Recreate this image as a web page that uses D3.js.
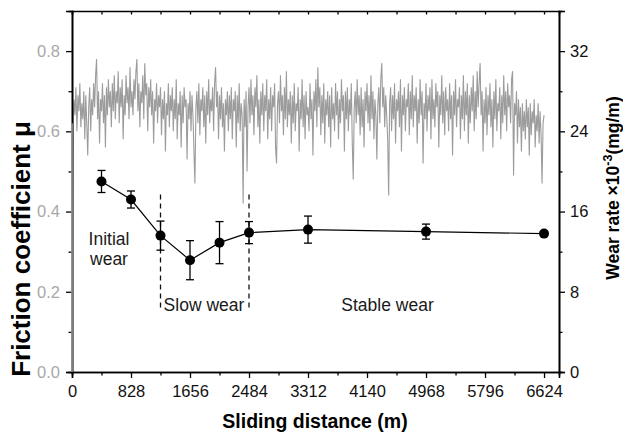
<!DOCTYPE html>
<html>
<head>
<meta charset="utf-8">
<script src="https://cdn.jsdelivr.net/npm/d3@7"></script>
<style>
  body { margin: 0; background: #fff; }
  svg { display: block; font-family: "Liberation Sans", Arial, sans-serif; }
</style>
</head>
<body>
<svg id="chart" width="623" height="434"></svg>
<script>
// friction trace, sampled every 13.8 m from 0 to 6624 m
const frictionStep = 13.8;
const friction = [
  0.00,
  0.62,0.68,0.64,0.71,0.60,0.69,0.65,0.72,0.61,0.67,0.63,0.70,0.58,0.69,0.62,0.54,0.66,0.71,0.60,0.68,
  0.64,0.72,0.66,0.74,0.78,0.63,0.70,0.57,0.68,0.65,0.72,0.62,0.69,0.56,0.71,0.64,0.73,0.66,0.70,0.61,
  0.72,0.65,0.74,0.63,0.70,0.67,0.75,0.62,0.71,0.66,0.73,0.58,0.69,0.64,0.74,0.67,0.71,0.63,0.76,0.66,
  0.70,0.64,0.73,0.68,0.75,0.78,0.65,0.72,0.61,0.70,0.67,0.74,0.63,0.77,0.69,0.72,0.60,0.71,0.66,0.73,
  0.64,0.70,0.57,0.68,0.65,0.72,0.62,0.69,0.66,0.71,0.59,0.68,0.63,0.70,0.55,0.67,0.64,0.72,0.61,0.69,
  0.65,0.71,0.60,0.68,0.63,0.73,0.58,0.67,0.64,0.70,0.56,0.69,0.62,0.71,0.66,0.68,0.53,0.67,0.63,0.70,
  0.60,0.69,0.64,0.55,0.47,0.66,0.70,0.62,0.72,0.59,0.68,0.65,0.71,0.61,0.69,0.57,0.70,0.64,0.73,0.62,
  0.68,0.65,0.71,0.60,0.72,0.76,0.66,0.70,0.58,0.69,0.63,0.71,0.61,0.67,0.55,0.68,0.64,0.70,0.60,0.69,
  0.63,0.71,0.58,0.68,0.65,0.70,0.56,0.69,0.62,0.72,0.60,0.67,0.64,0.42,0.68,0.61,0.70,0.50,0.66,0.71,
  0.62,0.73,0.64,0.69,0.59,0.71,0.66,0.74,0.61,0.68,0.57,0.70,0.64,0.72,0.60,0.69,0.65,0.73,0.58,0.68,
  0.63,0.71,0.60,0.69,0.66,0.72,0.56,0.52,0.67,0.70,0.62,0.74,0.65,0.69,0.59,0.71,0.63,0.75,0.61,0.68,
  0.64,0.70,0.57,0.69,0.62,0.72,0.60,0.67,0.65,0.71,0.55,0.68,0.63,0.73,0.61,0.69,0.58,0.70,0.64,0.66,
  0.60,0.72,0.63,0.68,0.54,0.70,0.65,0.73,0.61,0.76,0.66,0.71,0.59,0.69,0.62,0.72,0.57,0.68,0.64,0.70,
  0.61,0.69,0.56,0.71,0.63,0.67,0.60,0.72,0.64,0.70,0.58,0.68,0.62,0.73,0.65,0.69,0.55,0.70,0.63,0.71,
  0.60,0.68,0.64,0.72,0.57,0.48,0.66,0.70,0.62,0.73,0.64,0.69,0.59,0.71,0.61,0.68,0.56,0.70,0.65,0.72,
  0.62,0.69,0.60,0.74,0.63,0.70,0.58,0.68,0.64,0.53,0.67,0.71,0.62,0.73,0.77,0.66,0.71,0.61,0.69,0.64,
  0.58,0.44,0.67,0.71,0.60,0.69,0.63,0.72,0.57,0.68,0.65,0.70,0.61,0.73,0.55,0.69,0.64,0.71,0.60,0.68,
  0.66,0.72,0.59,0.70,0.63,0.74,0.61,0.69,0.65,0.71,0.57,0.68,0.62,0.73,0.64,0.70,0.52,0.67,0.63,0.72,
  0.60,0.69,0.65,0.71,0.58,0.73,0.63,0.68,0.61,0.72,0.66,0.70,0.56,0.69,0.64,0.74,0.62,0.70,0.59,0.71,
  0.65,0.68,0.60,0.72,0.63,0.69,0.54,0.70,0.64,0.73,0.61,0.68,0.66,0.71,0.58,0.69,0.63,0.74,0.60,0.70,
  0.64,0.72,0.57,0.69,0.62,0.71,0.65,0.74,0.60,0.70,0.63,0.75,0.66,0.72,0.77,0.64,0.70,0.55,0.68,0.62,
  0.71,0.59,0.69,0.64,0.72,0.61,0.68,0.56,0.70,0.63,0.73,0.60,0.67,0.65,0.71,0.58,0.69,0.62,0.74,0.64,
  0.70,0.60,0.72,0.66,0.69,0.62,0.73,0.75,0.49,0.67,0.64,0.70,0.57,0.68,0.61,0.66,0.55,0.67,0.60,0.65,
  0.58,0.68,0.61,0.66,0.54,0.67,0.59,0.65,0.62,0.68,0.56,0.64,0.60,0.67,0.57,0.65,0.59,0.47,0.62,0.64
];

// wear rate points (x10^-3 mg/m)
const wearDist = [414, 828, 1242, 1656, 2070, 2484, 3312, 4968, 6624];
const wearRate = [19.0, 17.2, 13.6, 11.15, 12.9, 13.9, 14.2, 14.0, 13.8];
const wearErr = [1.1, 0.85, 1.45, 1.95, 2.1, 1.1, 1.35, 0.75, 0];

const xTicks = [0, 828, 1656, 2484, 3312, 4140, 4968, 5796, 6624];
const xMinor = [414, 1242, 2070, 2898, 3726, 4554, 5382, 6210];
const fTicks = [0, 0.2, 0.4, 0.6, 0.8];
const fMinor = [0.1, 0.3, 0.5, 0.7];
const wTicks = [0, 8, 16, 24, 32];
const wMinor = [4, 12, 20, 28];

// stage boundaries (distance, wear-rate range) and labels
const stageLines = [1242, 2484];
const stageLineRange = [6.1, 17.7];
const stageLabels = [
  { lines: ["Initial", "wear"], dist: 519, wear: [12.67, 10.7] },
  { lines: ["Slow wear"], dist: 1852, wear: [6.05] },
  { lines: ["Stable wear"], dist: 4428, wear: [6.05] }
];

const svg = d3.select("#chart");
const margin = { top: 11, right: 64, bottom: 62, left: 72 };
const W = 623, H = 434;

const x = d3.scaleLinear().domain([0, 6834]).range([margin.left, W - margin.right]);
const yF = d3.scaleLinear().domain([0, 0.9]).range([H - margin.bottom, margin.top]);
const yW = d3.scaleLinear().domain([0, 36]).range([H - margin.bottom, margin.top]);

const tickFont = 16.5;

// friction trace
const frictionPts = friction.map((v, i) => [i * frictionStep, v]);
svg.append("path")
  .datum(frictionPts)
  .attr("fill", "none")
  .attr("stroke", "#9c9c9c")
  .attr("stroke-width", 1.1)
  .attr("d", d3.line().x(d => x(d[0])).y(d => yF(d[1])));

// dashed stage lines
svg.selectAll(".stage")
  .data(stageLines)
  .join("line")
  .attr("x1", d => x(d)).attr("x2", d => x(d))
  .attr("y1", yW(stageLineRange[1])).attr("y2", yW(stageLineRange[0]))
  .attr("stroke", "#111")
  .attr("stroke-width", 1.3)
  .attr("stroke-dasharray", "5,4");

// stage labels
stageLabels.forEach(s => {
  s.lines.forEach((t, j) => {
    svg.append("text")
      .attr("x", x(s.dist))
      .attr("y", yW(s.wear[j]))
      .attr("text-anchor", "middle")
      .attr("font-size", 17.5)
      .attr("fill", "#1a1a1a")
      .text(t);
  });
});

// wear rate line + error bars + dots
const wear = wearDist.map((d, i) => ({ d, v: wearRate[i], e: wearErr[i] }));
svg.append("path")
  .datum(wear)
  .attr("fill", "none")
  .attr("stroke", "#000")
  .attr("stroke-width", 1.2)
  .attr("d", d3.line().x(p => x(p.d)).y(p => yW(p.v)));

const eb = svg.selectAll(".err").data(wear.filter(p => p.e > 0)).join("g");
eb.append("line")
  .attr("x1", p => x(p.d)).attr("x2", p => x(p.d))
  .attr("y1", p => yW(p.v + p.e)).attr("y2", p => yW(p.v - p.e))
  .attr("stroke", "#000").attr("stroke-width", 1.3);
[1, -1].forEach(s => {
  eb.append("line")
    .attr("x1", p => x(p.d) - 4).attr("x2", p => x(p.d) + 4)
    .attr("y1", p => yW(p.v + s * p.e)).attr("y2", p => yW(p.v + s * p.e))
    .attr("stroke", "#000").attr("stroke-width", 1.3);
});

svg.selectAll(".dot")
  .data(wear)
  .join("circle")
  .attr("cx", p => x(p.d))
  .attr("cy", p => yW(p.v))
  .attr("r", 5)
  .attr("fill", "#000");

// axes
function styleAxis(g, color) {
  g.select(".domain").attr("stroke", "#000").attr("stroke-width", 1.6);
  g.selectAll(".tick line").attr("stroke", "#000").attr("stroke-width", 1.3);
  g.selectAll(".tick text")
    .attr("font-size", tickFont)
    .attr("font-family", "Liberation Sans, Arial, sans-serif")
    .attr("fill", color);
}

const yBase = H - margin.bottom;
const xR = W - margin.right;

// minor ticks first, majors on top
svg.append("g").attr("transform", `translate(0,${yBase})`)
  .call(d3.axisBottom(x).tickValues(xMinor).tickSize(3.5).tickFormat(""))
  .call(g => styleAxis(g, "#000"));
svg.append("g").attr("transform", `translate(0,${yBase})`)
  .call(d3.axisBottom(x).tickValues(xTicks).tickSize(6).tickPadding(7).tickFormat(d3.format("d")))
  .call(g => styleAxis(g, "#111"));

svg.append("g").attr("transform", `translate(0,${margin.top})`)
  .call(d3.axisTop(x).tickValues(xTicks.concat(xMinor)).tickSize(-3.5).tickFormat(""))
  .call(g => styleAxis(g, "#000"));

svg.append("g").attr("transform", `translate(${margin.left},0)`)
  .call(d3.axisLeft(yF).tickValues(fMinor).tickSize(3.5).tickFormat(""))
  .call(g => styleAxis(g, "#000"));
svg.append("g").attr("transform", `translate(${margin.left},0)`)
  .call(d3.axisLeft(yF).tickValues(fTicks).tickSize(6).tickPadding(6).tickFormat(d3.format(".1f")))
  .call(g => styleAxis(g, "#a8a8a8"));

svg.append("g").attr("transform", `translate(${xR},0)`)
  .call(d3.axisRight(yW).tickValues(wMinor).tickSize(3.5).tickFormat(""))
  .call(g => styleAxis(g, "#000"));
svg.append("g").attr("transform", `translate(${xR},0)`)
  .call(d3.axisRight(yW).tickValues(wTicks).tickSize(6).tickPadding(5))
  .call(g => styleAxis(g, "#111"));

// redraw the friction start over the left axis (trace rises from 0)
svg.append("line")
  .attr("x1", x(0)).attr("x2", x(0))
  .attr("y1", yF(0)).attr("y2", yF(friction[1]))
  .attr("stroke", "#9c9c9c").attr("stroke-width", 1.6);

// axis titles
svg.append("text")
  .attr("x", 315).attr("y", 428)
  .attr("text-anchor", "middle")
  .attr("font-size", 19.5).attr("font-weight", "bold")
  .text("Sliding distance (m)");

svg.append("text")
  .attr("transform", "translate(30,249) rotate(-90)")
  .attr("text-anchor", "middle")
  .attr("font-size", 26).attr("font-weight", "bold")
  .text("Friction coefficient μ");

const rt = svg.append("text")
  .attr("transform", "translate(619,188) rotate(-90)")
  .attr("text-anchor", "middle")
  .attr("font-size", 17.5).attr("font-weight", "bold");
rt.append("tspan").text("Wear rate ×10");
rt.append("tspan").attr("font-size", 12.5).attr("dy", -7).text("-3");
rt.append("tspan").attr("dy", 7).text("(mg/m)");
</script>
</body>
</html>
